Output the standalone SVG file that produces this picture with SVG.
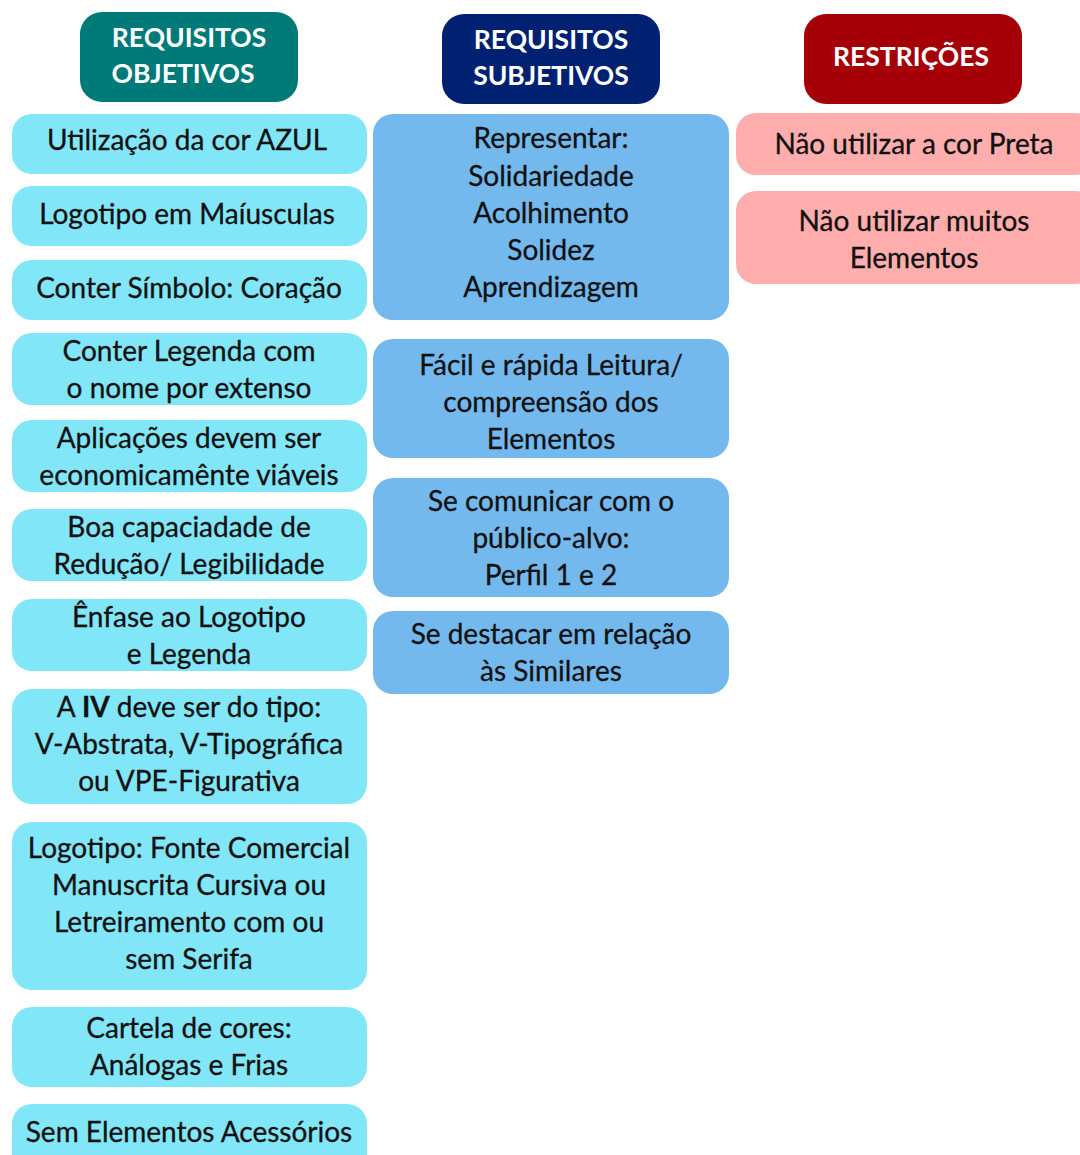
<svg xmlns="http://www.w3.org/2000/svg" width="1080" height="1155" viewBox="0 0 1080 1155">
<style>
.hdr text{font-family:Lato,"Open Sans","DejaVu Sans",sans-serif;font-weight:bold;font-size:26.5px;fill:#ffffff;text-anchor:middle;dominant-baseline:central}
.n text{font-family:Lato,"Open Sans","DejaVu Sans",sans-serif;font-size:28px;fill:#111111;text-anchor:middle;dominant-baseline:central;stroke:#111111;stroke-width:0.3px}
.obj rect{fill:#80E6F8}
.sub rect{fill:#73B9EE}
.res rect{fill:#FFADAD}
</style>
<rect width="1080" height="1155" fill="#ffffff"/>
<g id="h-objetivos" class="hdr"><rect x="80" y="12" width="218" height="90" rx="22" fill="#007A78"/><text x="189" y="37">REQUISITOS</text><text x="183" y="73">OBJETIVOS</text></g>
<g id="h-subjetivos" class="hdr"><rect x="442" y="14" width="218" height="90" rx="22" fill="#002171"/><text x="551" y="39">REQUISITOS</text><text x="551" y="75">SUBJETIVOS</text></g>
<g id="h-restricoes" class="hdr"><rect x="804" y="14" width="218" height="90" rx="22" fill="#A50008"/><text x="911" y="56">RESTRIÇÕES</text></g>

<g id="o1" class="n obj"><rect x="12" y="114" width="355" height="60" rx="20"/><text x="187" y="139">Utilização da cor AZUL</text></g>
<g id="o2" class="n obj"><rect x="12" y="186" width="355" height="60" rx="20"/><text x="187" y="213">Logotipo em Maíusculas</text></g>
<g id="o3" class="n obj"><rect x="12" y="260" width="355" height="60" rx="20"/><text x="189" y="287">Conter Símbolo: Coração</text></g>
<g id="o4" class="n obj"><rect x="12" y="333" width="355" height="72" rx="20"/><text x="189" y="350">Conter Legenda com</text><text x="189" y="387">o nome por extenso</text></g>
<g id="o5" class="n obj"><rect x="12" y="420" width="355" height="72" rx="20"/><text x="189" y="437">Aplicações devem ser</text><text x="189" y="474">economicamênte viáveis</text></g>
<g id="o6" class="n obj"><rect x="12" y="509" width="355" height="72" rx="20"/><text x="189" y="526">Boa capaciadade de</text><text x="189" y="563">Redução/ Legibilidade</text></g>
<g id="o7" class="n obj"><rect x="12" y="599" width="355" height="72" rx="20"/><text x="189" y="616">Ênfase ao Logotipo</text><text x="189" y="653">e Legenda</text></g>
<g id="o8" class="n obj"><rect x="12" y="689" width="355" height="115" rx="20"/><text x="189" y="706">A <tspan font-weight="bold">IV</tspan> deve ser do tipo:</text><text x="189" y="743">V-Abstrata, V-Tipográfica</text><text x="189" y="780">ou VPE-Figurativa</text></g>
<g id="o9" class="n obj"><rect x="12" y="822" width="355" height="168" rx="20"/><text x="189" y="847">Logotipo: Fonte Comercial</text><text x="189" y="884">Manuscrita Cursiva ou</text><text x="189" y="921">Letreiramento com ou</text><text x="189" y="958">sem Serifa</text></g>
<g id="o10" class="n obj"><rect x="12" y="1007" width="355" height="80" rx="20"/><text x="189" y="1027">Cartela de cores:</text><text x="189" y="1064">Análogas e Frias</text></g>
<g id="o11" class="n obj"><rect x="12" y="1104" width="355" height="80" rx="20"/><text x="189" y="1131">Sem Elementos Acessórios</text></g>

<g id="s1" class="n sub"><rect x="373" y="114" width="356" height="206" rx="20"/><text x="551" y="137">Representar:</text><text x="551" y="175">Solidariedade</text><text x="551" y="212">Acolhimento</text><text x="551" y="249">Solidez</text><text x="551" y="286">Aprendizagem</text></g>
<g id="s2" class="n sub"><rect x="373" y="339" width="356" height="119" rx="20"/><text x="551" y="364">Fácil e rápida Leitura/</text><text x="551" y="401">compreensão dos</text><text x="551" y="438">Elementos</text></g>
<g id="s3" class="n sub"><rect x="373" y="478" width="356" height="119" rx="20"/><text x="551" y="500">Se comunicar com o</text><text x="551" y="537">público-alvo:</text><text x="551" y="574">Perfil 1 e 2</text></g>
<g id="s4" class="n sub"><rect x="373" y="611" width="356" height="83" rx="20"/><text x="551" y="633">Se destacar em relação</text><text x="551" y="670">às Similares</text></g>

<g id="r1" class="n res"><rect x="736" y="113" width="360" height="62" rx="20"/><text x="914" y="143">Não utilizar a cor Preta</text></g>
<g id="r2" class="n res"><rect x="736" y="191" width="360" height="93" rx="20"/><text x="914" y="220">Não utilizar muitos</text><text x="914" y="257">Elementos</text></g>
<g id="connectors"></g>
</svg>
